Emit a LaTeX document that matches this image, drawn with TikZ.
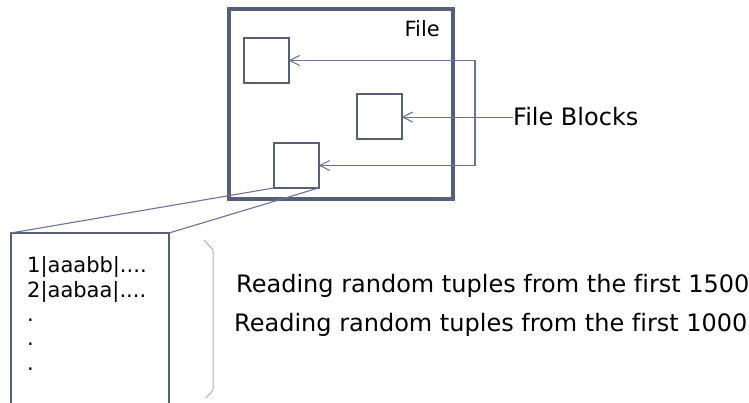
\documentclass[tikz,border=0pt]{standalone}
\usepackage{fontspec}
\setmainfont[Ligatures=NoCommon]{DejaVu Sans}
\usetikzlibrary{arrows.meta,positioning}

\definecolor{slate}{RGB}{88,94,120}
\definecolor{linkblue}{RGB}{108,114,156}
\definecolor{bracegray}{RGB}{168,174,204}

\begin{document}
\begin{tikzpicture}[x=1pt,y=-1pt,
  block/.style={draw=slate,line width=2pt,minimum size=45pt,inner sep=0pt,outer sep=0pt},
  link/.style={draw=linkblue,line width=1.1pt},
  barb/.tip={Straight Barb[length=10pt,width=10pt]},
  big/.style={font=\fontsize{24}{28}\selectfont,inner sep=0pt}]
  \useasboundingbox (0,0) rectangle (749,403);
  \path
  node[draw=slate,line width=4pt,minimum width=224pt,minimum height=190pt,inner sep=0pt] (file) at (341,104) {}
  node[anchor=base east,inner sep=0pt,font=\fontsize{21}{25}\selectfont] (filename) at (440,37) {File}
  node[block] (blk1) at (266,60.5) {}
  node[block] (blk2) at (379,117) {}
  node[block] (blk3) at (296,165.5) {}
  node[big,anchor=base west] (blocks) at (513,126) {File Blocks}
  node[draw=slate,line width=2pt,minimum width=158pt,minimum height=190pt,inner sep=0pt,outer sep=0pt,anchor=north west] (page) at (11,233) {}
  % base of a multi-line node is its last line
  node[anchor=base west,align=left,inner sep=0pt,font=\fontsize{21}{24.3}\selectfont] (rows) at (27,370)
    {1|aaabb|....\\2|aabaa|....\\.\\.\\.}
  node[big,anchor=base west] (read1) at (236,292) {Reading random tuples from the first 1500}
  node[big,anchor=base west] (read2) at (234,331) {Reading random tuples from the first 1000}
  ;
  \coordinate (spine) at (475,0);
  % label pointing at the blocks
  \draw[link,-barb] (blocks.west) -- (blocks.west -| blk2.east);
  \draw[link,barb-barb] (blk1.east) -- (spine |- blk1.east) -- (spine |- blk3.east) -- (blk3.east);
  % zoom onto one block
  \draw[link] (blk3.south west) -- (page.north west);
  \draw[link] (blk3.south east) -- (page.north east);
  % bracket beside the rows
  \draw[draw=bracegray,line width=1pt] (204,240) -- (213,250) -- (213,390) -- (206,398);
\end{tikzpicture}
\end{document}
